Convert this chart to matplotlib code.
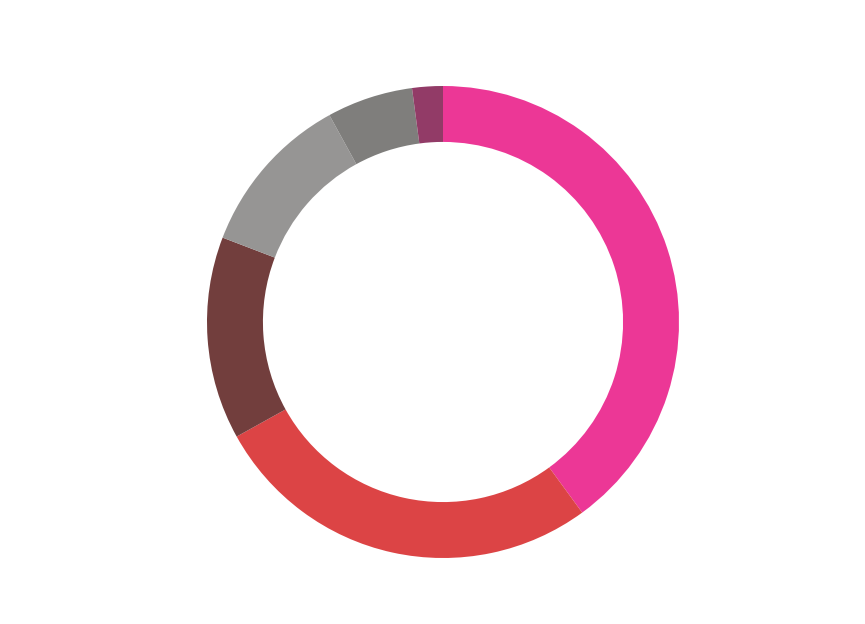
import matplotlib
matplotlib.use("Agg")
import matplotlib.pyplot as plt

# slice shares (percent), clockwise from 12 o'clock
labels = ["A", "B", "C", "D", "E", "F"]
values = [40.0, 27.0, 13.9, 11.2, 5.9, 2.1]
colors = ["#EC3796", "#DC4445", "#723E3D", "#969594", "#7F7E7C", "#923B67"]

fig = plt.figure(figsize=(8.65, 6.24), dpi=100)
ax = fig.add_axes([0, 0, 1, 1])

ax.pie(values, colors=colors, startangle=90, counterclock=False,
       radius=1.0, wedgeprops=dict(width=0.237, linewidth=0))

# centre at pixel (443, 322), outer radius 236 px
px = 236.0
ax.set_xlim(-443 / px, (865 - 443) / px)
ax.set_ylim(-(624 - 322) / px, 322 / px)
ax.set_aspect("auto")
ax.axis("off")

fig.savefig("out.png", dpi=100)
